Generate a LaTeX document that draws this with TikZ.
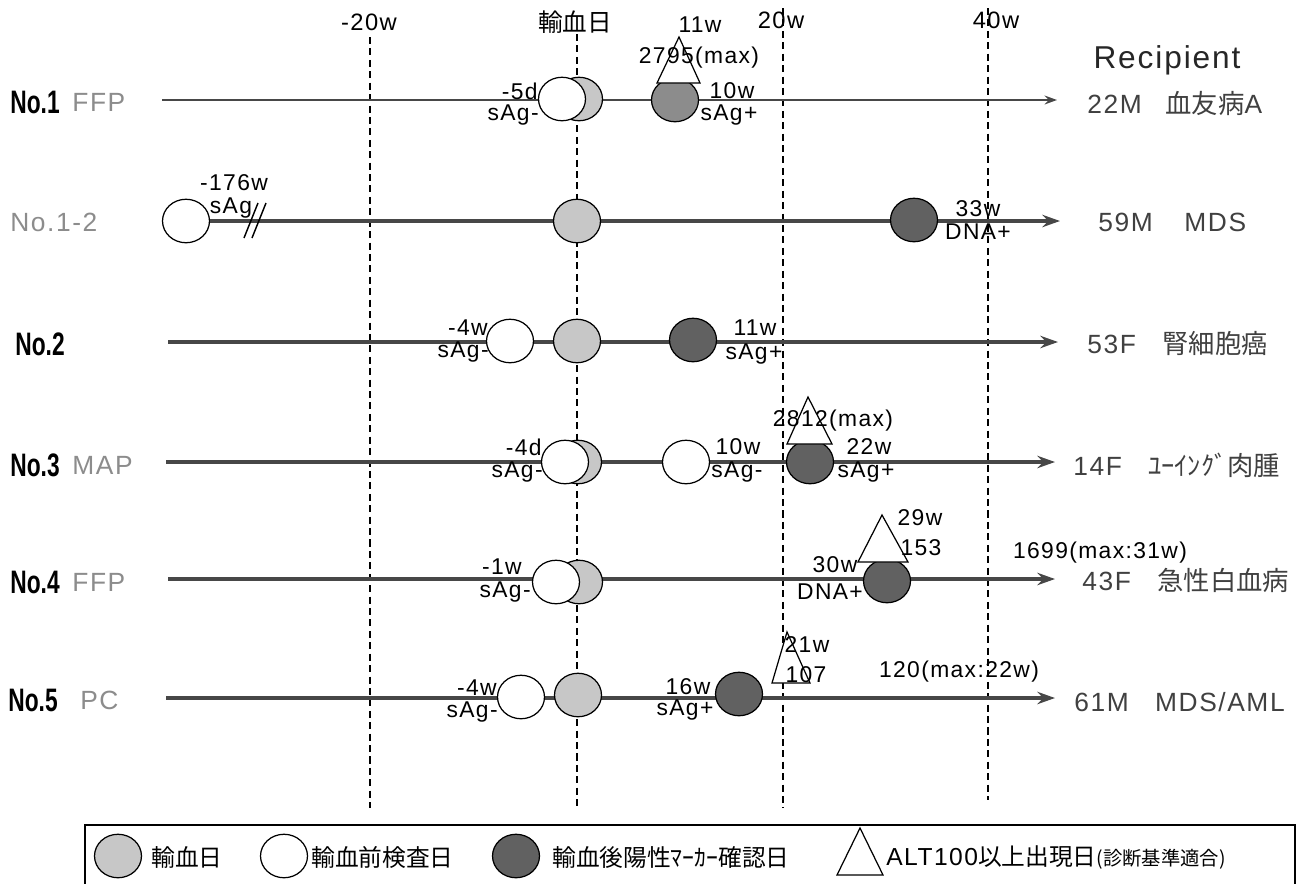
\documentclass[tikz,border=0pt]{standalone}
\usepackage{fontspec}
\setmainfont[LetterSpace=6]{Liberation Sans}
\newfontfamily\jp{Noto Sans CJK JP}
\newfontfamily\cond[FakeStretch=0.7]{Liberation Sans}
\usetikzlibrary{arrows.meta,shapes.geometric}
\newcommand{\fsz}[1]{\fontsize{#1}{#1}\selectfont}
\tikzset{
 axisline/.style={line width=1.8pt, draw=black!72, -{Stealth[length=10pt,width=7pt]}},
 thinaxis/.style={line width=1.2pt, draw=black!72, -{Stealth[length=7pt,width=5pt]}},
 gridline/.style={draw=black, line width=0.8pt, dash pattern=on 4pt off 2.5pt},
 circ/.style={ellipse, draw=black, line width=0.7pt, minimum width=0.94cm, minimum height=0.87cm, inner sep=0pt},
 tday/.style={circ, fill=black!22},
 pretest/.style={circ, fill=white},
 posmark/.style={circ, fill=black!62},
 posmid/.style={circ, fill=black!45},
 alt/.style={draw=black, line width=0.7pt, fill=white},
 lbl/.style={inner sep=0pt, font={\fsz{13}}},
 hdr/.style={inner sep=0pt, font={\fsz{13.5}}},
 rowlbl/.style={inner sep=0pt, anchor=west, font={\cond\bfseries\fsz{18.5}}},
 graylbl/.style={inner sep=0pt, anchor=west, text=black!45, font={\fsz{15}}},
 recip/.style={inner sep=0pt, anchor=west, text=black!75, font={\fsz{15}}},
 legtxt/.style={inner sep=0pt, anchor=west, font={\jp\fsz{13.5}}},
}
\begin{document}
\begin{tikzpicture}[x=0.02cm,y=-0.02cm]
\useasboundingbox (0,0) rectangle (1308,883);

% ---- vertical grid lines and headers
\node[hdr] (hm20) at (369,22) {-20w};
\node[hdr,font={\jp\fsz{14}}] (h0) at (575,22) {輸血日};
\node[hdr] (h20) at (781,20) {20w};
\node[hdr] (h40) at (996,20) {40w};
\coordinate (gm20t) at (370,37); \coordinate (gm20b) at (370,808);
\coordinate (g0t) at (577,34);   \coordinate (g0b) at (577,808);
\coordinate (g20t) at (783,8);   \coordinate (g20b) at (783,808);
\coordinate (g40t) at (988,8);   \coordinate (g40b) at (988,800);
\draw[gridline] (gm20t) -- (gm20b);
\draw[gridline] (g0t) -- (g0b);
\draw[gridline] (g20t) -- (g20b);
\draw[gridline] (g40t) -- (g40b);

\node[inner sep=0pt, font={\fsz{18}}, text=black!85] (recipient) at (1167,60) {Recipient};

% ---- Row 1
\node[rowlbl] (r1) at (10,102) {No.1};
\node[graylbl] (r1b) at (72,102) {FFP};
\coordinate (s1) at (162,100); \coordinate (e1) at (1057,100);
\draw[thinaxis] (s1) -- (e1);
\node[tday] (T1) at (579,99) {};
\node[pretest] (P1) at (562,99) {};
\node[posmid] (M1) at (675,100) {};
\draw[alt] (679,37) -- (657,83) -- (700,83) -- cycle;
\node[lbl,anchor=east] (l1a) at (538,91) {-5d};
\node[lbl,anchor=east] (l1b) at (539,115) {sAg-};
\node[lbl] (l1c) at (700,25) {11w};
\node[lbl] (l1d) at (699,58) {2795(max)};
\node[lbl] (l1e) at (732,91) {10w};
\node[lbl] (l1f) at (729,115) {sAg+};
\node[recip] (rc1) at (1087,103) {22M\hspace{0.9em}{\jp 血友病}A};

% ---- Row 1-2
\node[graylbl] (r12) at (10,222) {No.1-2};
\node[pretest] (P12) at (186,221) {};
\coordinate (e12) at (1060,221);
\draw[axisline] (P12.east) -- (e12);
\draw[line width=0.8pt] (244,238) -- (258,203);
\draw[line width=0.8pt] (252,238) -- (266,203);
\node[lbl] (l12a) at (234,183) {-176w};
\node[lbl] (l12b) at (231,208) {sAg};
\node[tday] (T12) at (577,221) {};
\node[posmark] (M12) at (914,220) {};
\node[lbl] (l12c) at (978,209) {33w};
\node[lbl] (l12d) at (978,232) {DNA+};
\node[recip] (rc12) at (1098,222) {59M\hspace{1.2em}MDS};

% ---- Row 2
\node[rowlbl] (r2) at (15,344) {No.2};
\coordinate (s2) at (168,342); \coordinate (e2) at (1058,342);
\draw[axisline] (s2) -- (e2);
\node[pretest] (P2) at (510,341) {};
\node[tday] (T2) at (577,341) {};
\node[posmark] (M2) at (693,340) {};
\node[lbl,anchor=east] (l2a) at (488,328) {-4w};
\node[lbl,anchor=east] (l2b) at (489,352) {sAg-};
\node[lbl] (l2c) at (755,328) {11w};
\node[lbl] (l2d) at (754,354) {sAg+};
\node[recip] (rc2) at (1087,343) {53F\hspace{1em}{\jp 腎細胞癌}};

% ---- Row 3
\node[rowlbl] (r3) at (10,465) {No.3};
\node[graylbl] (r3b) at (72,465) {MAP};
\coordinate (s3) at (166,462); \coordinate (e3) at (1055,462);
\draw[axisline] (s3) -- (e3);
\node[tday] (T3) at (578,462) {};
\node[pretest] (P3) at (565,462) {};
\node[pretest] (P3b) at (686,462) {};
\node[posmark] (M3) at (810,462) {};
\draw[alt] (808,397) -- (787,444) -- (832,444) -- cycle;
\node[lbl,anchor=east] (l3a) at (542,447) {-4d};
\node[lbl,anchor=east] (l3b) at (543,472) {sAg-};
\node[lbl] (l3c) at (738,447) {10w};
\node[lbl] (l3d) at (737,472) {sAg-};
\node[lbl] (l3e) at (833,421) {2812(max)};
\node[lbl] (l3f) at (869,447) {22w};
\node[lbl] (l3g) at (866,472) {sAg+};
\node[recip] (rc3) at (1073,465) {14F\hspace{1em}{\jp ﾕｰｲﾝｸﾞ肉腫}};

% ---- Row 4
\node[rowlbl] (r4) at (10,582) {No.4};
\node[graylbl] (r4b) at (72,582) {FFP};
\coordinate (s4) at (168,579); \coordinate (e4) at (1055,579);
\draw[axisline] (s4) -- (e4);
\node[tday] (T4) at (579,582) {};
\node[pretest] (P4) at (556,582) {};
\node[posmark] (M4) at (887,581) {};
\draw[alt] (882,515) -- (858,562) -- (908,562) -- cycle;
\node[lbl,anchor=east] (l4a) at (522,567) {-1w};
\node[lbl,anchor=east] (l4b) at (531,592) {sAg-};
\node[lbl] (l4c) at (835,565) {30w};
\node[lbl] (l4d) at (830,592) {DNA+};
\node[lbl] (l4e) at (920,518) {29w};
\node[lbl] (l4f) at (921,548) {153};
\node[lbl] (l4g) at (1100,553) {1699(max:31w)};
\node[recip] (rc4) at (1082,580) {43F\hspace{1em}{\jp 急性白血病}};

% ---- Row 5
\node[rowlbl] (r5) at (8,700) {No.5};
\node[graylbl] (r5b) at (80,700) {PC};
\coordinate (s5) at (166,698); \coordinate (e5) at (1055,698);
\draw[axisline] (s5) -- (e5);
\node[pretest] (P5) at (521,697) {};
\node[tday] (T5) at (578,695) {};
\node[posmark] (M5) at (739,694) {};
\draw[alt] (787,632) -- (772,683) -- (810,683) -- cycle;
\node[lbl,anchor=east] (l5a) at (497,688) {-4w};
\node[lbl,anchor=east] (l5b) at (498,712) {sAg-};
\node[lbl] (l5c) at (688,687) {16w};
\node[lbl] (l5d) at (685,710) {sAg+};
\node[lbl] (l5e) at (807,645) {21w};
\node[lbl] (l5f) at (806,675) {107};
\node[lbl] (l5g) at (959,672) {120(max:22w)};
\node[recip] (rc5) at (1074,702) {61M\hspace{1em}MDS/AML};

% ---- Legend
\draw[line width=0.8pt] (85,884) -- (85,825) -- (1295,825) -- (1295,884);
\node[tday] (L1) at (118,856) {};
\node[legtxt] (L1t) at (151,857) {輸血日};
\node[pretest] (L2) at (284,856) {};
\node[legtxt] (L2t) at (311,857) {輸血前検査日};
\node[posmark] (L3) at (516,856) {};
\node[legtxt] (L3t) at (552,857) {輸血後陽性ﾏｰｶｰ確認日};
\draw[alt] (860,828) -- (837,875) -- (883,875) -- cycle;
\node[legtxt] (L4t) at (886,857) {{\rmfamily\fsz{14}ALT100}以上出現日{\fsz{11}(診断基準適合)}};
\end{tikzpicture}
\end{document}
